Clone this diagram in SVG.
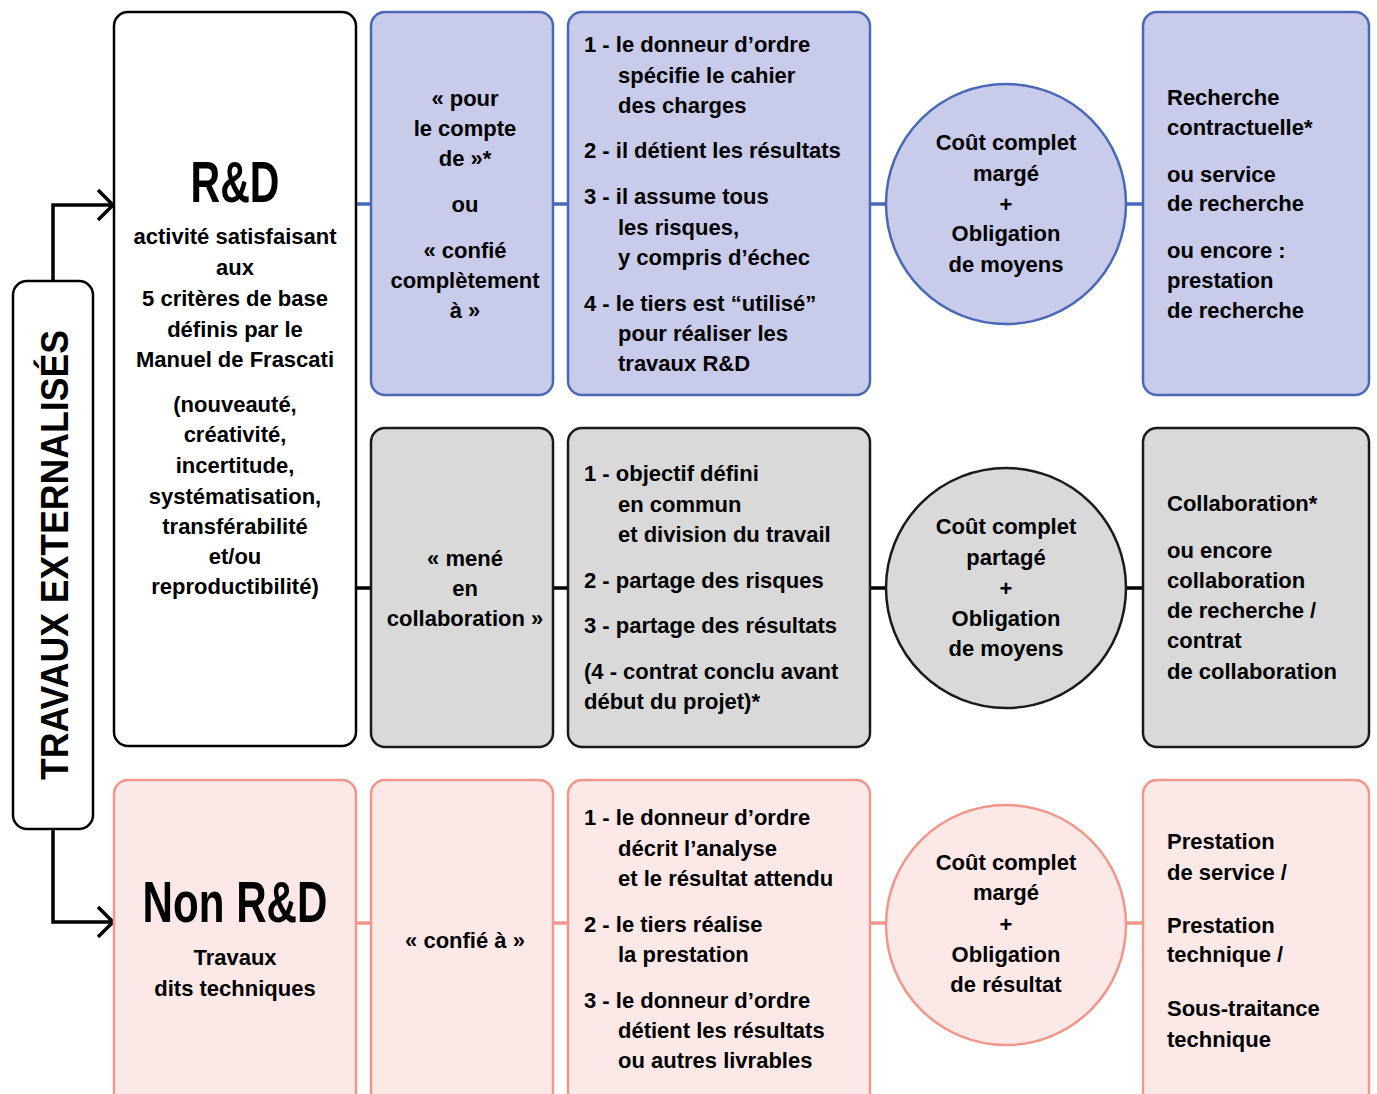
<svg xmlns="http://www.w3.org/2000/svg" width="1377" height="1094" viewBox="0 0 1377 1094">
<style>
text{font-family:"Liberation Sans",Arial,sans-serif;font-weight:bold;font-size:22px;fill:#000}
.c{text-anchor:middle}
.big{font-size:58px}
.title{font-size:38px}
.blue{fill:#C8CBE9;stroke:#4A68B8;stroke-width:2.5}
.grey{fill:#D9D9D9;stroke:#1A1A1A;stroke-width:2.5}
.pink{fill:#FCE8E6;stroke:#F2968B;stroke-width:2.5}
.white{fill:#FFFFFF;stroke:#000;stroke-width:2.5}
.arr{fill:none;stroke:#000;stroke-width:3.5}
</style>
<rect width="1377" height="1094" fill="#FFFFFF"/>
<g id="connectors">
<line x1="356" y1="204" x2="1143" y2="204" stroke="#4A68B8" stroke-width="3.5"/>
<line x1="356" y1="588" x2="1143" y2="588" stroke="#000" stroke-width="3.5"/>
<line x1="356" y1="923" x2="1143" y2="923" stroke="#F2968B" stroke-width="3.5"/>
<polyline class="arr" points="53,281 53,205 111,205"/>
<polyline class="arr" points="98,190 113,205 98,220"/>
<polyline class="arr" points="53,829 53,922 111,922"/>
<polyline class="arr" points="98,907 113,922 98,937"/>
</g>
<g id="travaux-externalises">
<rect x="13" y="281" width="80" height="548" rx="14" class="white"/>
<text class="title c" transform="translate(68,555) rotate(-90)" textLength="450" lengthAdjust="spacingAndGlyphs">TRAVAUX EXTERNALISÉS</text>
</g>
<g id="rd">
<rect x="114" y="12" width="242" height="734" rx="14" class="white"/>
<text class="c big" x="235" y="202" textLength="89" lengthAdjust="spacingAndGlyphs">R&amp;D</text>
<text class="c" x="235" y="244">activité satisfaisant</text>
<text class="c" x="235" y="275">aux</text>
<text class="c" x="235" y="306">5 critères de base</text>
<text class="c" x="235" y="337">définis par le</text>
<text class="c" x="235" y="367">Manuel de Frascati</text>
<text class="c" x="235" y="412">(nouveauté,</text>
<text class="c" x="235" y="442">créativité,</text>
<text class="c" x="235" y="473">incertitude,</text>
<text class="c" x="235" y="504">systématisation,</text>
<text class="c" x="235" y="534">transférabilité</text>
<text class="c" x="235" y="564">et/ou</text>
<text class="c" x="235" y="594">reproductibilité)</text>
</g>
<g id="non-rd">
<rect x="114" y="780" width="242" height="340" rx="14" class="pink"/>
<text class="c big" x="235" y="922" textLength="185" lengthAdjust="spacingAndGlyphs">Non R&amp;D</text>
<text class="c" x="235" y="965">Travaux</text>
<text class="c" x="235" y="996">dits techniques</text>
</g>
<g id="pour-le-compte">
<rect x="371" y="12" width="182" height="383" rx="14" class="blue"/>
<text class="c" x="465" y="106">« pour</text>
<text class="c" x="465" y="136">le compte</text>
<text class="c" x="465" y="166">de »*</text>
<text class="c" x="465" y="212">ou</text>
<text class="c" x="465" y="258">« confié</text>
<text class="c" x="465" y="288">complètement</text>
<text class="c" x="465" y="318">à »</text>
</g>
<g id="mene-en-collaboration">
<rect x="371" y="428" width="182" height="319" rx="14" class="grey"/>
<text class="c" x="465" y="566">« mené</text>
<text class="c" x="465" y="596">en</text>
<text class="c" x="465" y="626">collaboration »</text>
</g>
<g id="confie-a">
<rect x="371" y="780" width="182" height="340" rx="14" class="pink"/>
<text class="c" x="465" y="948">« confié à »</text>
</g>
<g id="criteres-recherche">
<rect x="568" y="12" width="302" height="383" rx="14" class="blue"/>
<text x="584" y="52">1 - le donneur d’ordre</text>
<text x="618" y="83">spécifie le cahier</text>
<text x="618" y="113">des charges</text>
<text x="584" y="158">2 - il détient les résultats</text>
<text x="584" y="204">3 - il assume tous</text>
<text x="618" y="235">les risques,</text>
<text x="618" y="265">y compris d’échec</text>
<text x="584" y="311">4 - le tiers est “utilisé”</text>
<text x="618" y="341">pour réaliser les</text>
<text x="618" y="371">travaux R&amp;D</text>
</g>
<g id="criteres-collaboration">
<rect x="568" y="428" width="302" height="319" rx="14" class="grey"/>
<text x="584" y="481">1 - objectif défini</text>
<text x="618" y="512">en commun</text>
<text x="618" y="542">et division du travail</text>
<text x="584" y="588">2 - partage des risques</text>
<text x="584" y="633">3 - partage des résultats</text>
<text x="584" y="679">(4 - contrat conclu avant</text>
<text x="584" y="709">début du projet)*</text>
</g>
<g id="criteres-prestation">
<rect x="568" y="780" width="302" height="340" rx="14" class="pink"/>
<text x="584" y="825">1 - le donneur d’ordre</text>
<text x="618" y="856">décrit l’analyse</text>
<text x="618" y="886">et le résultat attendu</text>
<text x="584" y="932">2 - le tiers réalise</text>
<text x="618" y="962">la prestation</text>
<text x="584" y="1008">3 - le donneur d’ordre</text>
<text x="618" y="1038">détient les résultats</text>
<text x="618" y="1068">ou autres livrables</text>
</g>
<g id="cout-recherche">
<ellipse cx="1006" cy="204" rx="120" ry="120" class="blue"/>
<text class="c" x="1006" y="150">Coût complet</text>
<text class="c" x="1006" y="181">margé</text>
<text class="c" x="1006" y="212">+</text>
<text class="c" x="1006" y="241">Obligation</text>
<text class="c" x="1006" y="272">de moyens</text>
</g>
<g id="cout-collaboration">
<ellipse cx="1006" cy="588" rx="120" ry="120" class="grey"/>
<text class="c" x="1006" y="534">Coût complet</text>
<text class="c" x="1006" y="565">partagé</text>
<text class="c" x="1006" y="596">+</text>
<text class="c" x="1006" y="626">Obligation</text>
<text class="c" x="1006" y="656">de moyens</text>
</g>
<g id="cout-prestation">
<ellipse cx="1006" cy="925" rx="120" ry="120" class="pink"/>
<text class="c" x="1006" y="870">Coût complet</text>
<text class="c" x="1006" y="900">margé</text>
<text class="c" x="1006" y="932">+</text>
<text class="c" x="1006" y="962">Obligation</text>
<text class="c" x="1006" y="992">de résultat</text>
</g>
<g id="recherche-contractuelle">
<rect x="1143" y="12" width="226" height="383" rx="14" class="blue"/>
<text x="1167" y="105">Recherche</text>
<text x="1167" y="135">contractuelle*</text>
<text x="1167" y="182">ou service</text>
<text x="1167" y="211">de recherche</text>
<text x="1167" y="258">ou encore :</text>
<text x="1167" y="288">prestation</text>
<text x="1167" y="318">de recherche</text>
</g>
<g id="collaboration">
<rect x="1143" y="428" width="226" height="319" rx="14" class="grey"/>
<text x="1167" y="511">Collaboration*</text>
<text x="1167" y="558">ou encore</text>
<text x="1167" y="588">collaboration</text>
<text x="1167" y="618">de recherche /</text>
<text x="1167" y="648">contrat</text>
<text x="1167" y="679">de collaboration</text>
</g>
<g id="prestation">
<rect x="1143" y="780" width="226" height="340" rx="14" class="pink"/>
<text x="1167" y="849">Prestation</text>
<text x="1167" y="880">de service /</text>
<text x="1167" y="933">Prestation</text>
<text x="1167" y="962">technique /</text>
<text x="1167" y="1016">Sous-traitance</text>
<text x="1167" y="1047">technique</text>
</g>
</svg>
